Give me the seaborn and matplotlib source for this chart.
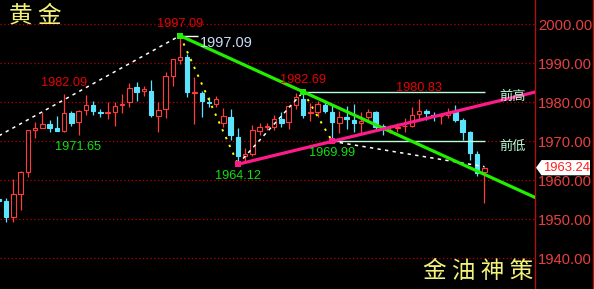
import matplotlib
matplotlib.use("Agg")
import matplotlib.pyplot as plt
import seaborn as sns
import pandas as pd
from matplotlib.patches import Polygon
from matplotlib.lines import Line2D

# ---------------- data ----------------
idx = list(range(-1, 67))
opens = [1955.2,
         1954.7, 1950.7, 1956.6, 1962.2, 1973.0, 1973.5, 1974.4, 1973.4, 1972.7, 1977.2,
         1975.0, 1978.0, 1979.2, 1977.4, 1977.2, 1977.6, 1979.2, 1980.2, 1983.8, 1982.9,
         1982.9, 1976.6, 1978.2, 1986.7, 1990.8, 1991.5, 1982.5, 1982.5, 1980.1, 1979.6,
         1974.8, 1976.2, 1971.2, 1966.2, 1966.7, 1972.7, 1973.7, 1973.7, 1975.7, 1975.0,
         1979.4, 1980.8, 1977.3, 1977.4, 1979.3, 1977.4, 1974.8, 1976.3, 1975.5, 1974.6,
         1976.3, 1977.4, 1974.0, 1972.8, 1973.3, 1973.8, 1974.0, 1976.9, 1977.8, 1976.8,
         1976.4, 1976.7, 1977.6, 1975.5, 1972.3, 1966.7, 1962.1]
highs = [1955.4,
         1955.4, 1960.3, 1962.4, 1972.9, 1975.0, 1977.6, 1975.5, 1976.5, 1982.09, 1977.8,
         1978.0, 1981.9, 1980.3, 1978.3, 1980.2, 1980.2, 1982.1, 1984.9, 1985.3, 1984.2,
         1985.7, 1980.2, 1987.8, 1991.2, 1997.09, 1992.4, 1986.5, 1983.0, 1981.4, 1981.7,
         1978.5, 1978.3, 1973.3, 1968.2, 1974.2, 1974.8, 1974.8, 1976.7, 1977.6, 1979.3,
         1982.3, 1982.69, 1979.7, 1980.4, 1980.6, 1979.3, 1977.8, 1979.0, 1979.6, 1977.6,
         1978.2, 1977.8, 1974.5, 1974.1, 1974.8, 1975.9, 1978.7, 1980.83, 1978.3, 1977.4,
         1977.3, 1978.5, 1979.3, 1975.9, 1972.6, 1967.5, 1963.5]
lows = [1954.5,
        1949.2, 1949.4, 1952.4, 1960.9, 1970.9, 1973.3, 1972.3, 1972.7, 1972.5, 1973.9,
        1971.65, 1976.7, 1976.7, 1976.3, 1975.7, 1974.0, 1977.2, 1978.9, 1980.4, 1981.7,
        1976.2, 1972.5, 1975.9, 1984.2, 1989.7, 1981.4, 1974.4, 1976.2, 1978.9, 1978.8,
        1973.7, 1970.3, 1964.12, 1965.0, 1966.2, 1971.6, 1972.9, 1972.9, 1973.7, 1973.2,
        1978.2, 1975.9, 1975.3, 1976.3, 1977.3, 1969.99, 1972.2, 1973.1, 1972.5, 1972.2,
        1975.5, 1972.9, 1971.6, 1972.1, 1972.5, 1972.5, 1973.7, 1975.6, 1975.5, 1975.3,
        1974.4, 1975.9, 1974.9, 1970.3, 1965.2, 1961.2, 1954.1]
closes = [1954.7,
          1950.7, 1956.5, 1962.1, 1972.9, 1973.5, 1974.4, 1973.4, 1972.7, 1977.2, 1974.8,
          1977.8, 1979.2, 1977.8, 1977.2, 1977.4, 1979.0, 1979.5, 1983.6, 1982.7, 1983.4,
          1976.7, 1978.0, 1986.7, 1991.0, 1991.5, 1982.7, 1982.7, 1980.4, 1979.7, 1980.8,
          1976.5, 1971.6, 1966.2, 1966.7, 1972.9, 1973.7, 1973.9, 1975.6, 1974.8, 1979.0,
          1981.4, 1976.8, 1977.4, 1979.6, 1977.8, 1975.0, 1976.2, 1975.6, 1974.6, 1975.3,
          1977.4, 1973.7, 1973.5, 1973.0, 1973.7, 1973.9, 1976.7, 1977.8, 1977.2, 1976.6,
          1976.6, 1977.6, 1975.5, 1972.5, 1966.9, 1961.8, 1963.24]

price_ticks = [1940, 1950, 1960, 1970, 1980, 1990, 2000]

# key swing points (index, price)
swing_high_1 = (24, 1997.09)
swing_high_2 = (41, 1982.69)
swing_low_1 = (32, 1964.12)
swing_low_2 = (45, 1969.99)
minor_high_labels = [(8, 1982.09), (57, 1980.83)]
minor_low_labels = [(10, 1971.65)]
left_trend = [(-1, 1971.4), (24, 1997.09)]
right_dash_end = (66, 1963.5)
level_end = 66.1
last_price = closes[-1]

title_left = "黄 金"
title_right = "金 油 神 策"
label_prev_high = "前高"
label_prev_low = "前低"

# ---------------- style ----------------
sns.set_theme(style="dark")
NUM = ['Liberation Sans', 'DejaVu Sans']
CJK = ['Noto Sans CJK SC', 'DejaVu Sans']
plt.rcParams['font.family'] = NUM

RED = '#FF3C3C'
CYAN = '#5CE4FF'
GRID = '#B80000'
AXRED = '#B01010'
TICKRED = '#E84040'
LBLRED = '#E80000'
LBLGREEN = '#10E010'
MINT = '#B8FFD8'
YELLOW = '#F2F27A'

fig = plt.figure(figsize=(5.94, 2.89), dpi=100, facecolor='black')
ax = fig.add_axes([0, 0, 535 / 594, 1])
ax.set_facecolor('black')

ax.set_xlim(-0.83, 72.97)
ax.set_ylim(1932.13, 2006.23)

# grid
for v in price_ticks:
    ax.axhline(v, color=GRID, lw=0.9, ls=(0, (1, 2)), zorder=1)

# candles
df = pd.DataFrame(dict(i=idx, o=opens, h=highs, l=lows, c=closes))
up = df[df.c >= df.o]
dn = df[df.c < df.o]
W = 0.62
ax.vlines(up.i, up.l, up.h, color=RED, lw=0.9, zorder=3)
ax.vlines(dn.i, dn.l, dn.h, color=CYAN, lw=0.9, zorder=3)
hu = (up.c - up.o).clip(lower=0.06)
ax.bar(up.i, hu, bottom=up.o, width=W, facecolor='black', edgecolor=RED, lw=0.8, zorder=4)
hd = (dn.o - dn.c).clip(lower=0.06)
ax.bar(dn.i, hd, bottom=dn.c, width=W, facecolor=CYAN, edgecolor=CYAN, lw=0.8, zorder=4)

# trend lines
xr = ax.get_xlim()[1]
g_slope = (swing_high_2[1] - swing_high_1[1]) / (swing_high_2[0] - swing_high_1[0])
sns.lineplot(x=[swing_high_1[0], xr], y=[swing_high_1[1], swing_high_1[1] + g_slope * (xr - swing_high_1[0])],
             ax=ax, color='#22EE00', lw=2.3, zorder=6)
p_slope = (swing_low_2[1] - swing_low_1[1]) / (swing_low_2[0] - swing_low_1[0])
sns.lineplot(x=[swing_low_1[0], xr], y=[swing_low_1[1], swing_low_1[1] + p_slope * (xr - swing_low_1[0])],
             ax=ax, color='#FF1A8C', lw=2.3, zorder=6)

# yellow dotted swings
for a, b in [(swing_high_1, swing_low_1), (swing_high_2, swing_low_2)]:
    sns.lineplot(x=[a[0], b[0]], y=[a[1], b[1]], ax=ax, color='#FFFF00', lw=1.4,
                 ls=(0, (1.2, 3.2)), zorder=5)
# white dashed
for a, b in [left_trend, (swing_low_1, swing_high_2), (swing_low_2, right_dash_end)]:
    sns.lineplot(x=[a[0], b[0]], y=[a[1], b[1]], ax=ax, color='white', lw=1.1,
                 ls=(0, (2.2, 2.8)), zorder=5)

# previous high / low levels
ax.hlines(swing_high_2[1], swing_high_2[0], level_end, color=MINT, lw=1.0, zorder=5)
ax.hlines(swing_low_2[1], swing_low_2[0], level_end, color=MINT, lw=1.0, zorder=5)
ax.hlines(swing_high_1[1], swing_high_1[0], swing_high_1[0] + 2.5, color='white', lw=1.0, zorder=5)

# markers
ax.scatter([swing_high_1[0], swing_high_2[0]], [swing_high_1[1], swing_high_2[1]],
           marker='s', s=22, color='#22EE00', zorder=7, linewidths=0)
ax.scatter([swing_low_1[0], swing_low_2[0]], [swing_low_1[1], swing_low_2[1]],
           marker='s', s=22, color='#FF1A8C', zorder=7, linewidths=0)

# value labels
def lbl(x, y, s, color, dy, size=9.2, ha='center'):
    ax.text(x, y + dy, s, color=color, fontsize=size, ha=ha, va='center',
            family=NUM, zorder=8)

for (x, v) in [swing_high_1, swing_high_2] + minor_high_labels:
    lbl(x, v, f"{v:.2f}", LBLRED, 2.9)
for (x, v) in [swing_low_1, swing_low_2] + minor_low_labels:
    lbl(x, v, f"{v:.2f}", LBLGREEN, -3.1)
ax.text(swing_high_1[0] + 2.7, swing_high_1[1] - 1.9, f"{swing_high_1[1]:.2f}", color='#C8DCF8',
        fontsize=10.5, ha='left', va='center', family=NUM, zorder=8)

ax.text(68.0, swing_high_2[1] - 1.3, label_prev_high, color=MINT, fontsize=9.5,
        ha='left', va='center', family=CJK, zorder=8)
ax.text(68.0, swing_low_2[1] - 1.2, label_prev_low, color=MINT, fontsize=9.5,
        ha='left', va='center', family=CJK, zorder=8)

# axis
for s in ['top', 'left', 'bottom']:
    ax.spines[s].set_visible(False)
ax.spines['right'].set_color(AXRED)
ax.spines['right'].set_linewidth(1.0)
ax.set_xticks([])
ax.yaxis.tick_right()
ax.set_yticks(price_ticks)
ax.set_yticklabels([f"{v:.2f}" for v in price_ticks], color=TICKRED, fontsize=10.6, family=NUM)
ax.tick_params(axis='y', length=0, pad=2)
ax.grid(False)

# last price tag
tr = ax.get_yaxis_transform()
hh = 1.95
tag = Polygon([[1.0019, last_price], [1.0121, last_price + hh], [1.1028, last_price + hh],
               [1.1028, last_price - hh], [1.0121, last_price - hh]],
              closed=True, transform=tr, facecolor='white', edgecolor='none',
              clip_on=False, zorder=10)
ax.add_patch(tag)
ax.text(1.0145, last_price, f"{last_price:.2f}", transform=tr, color='#FF2020', fontsize=9.4,
        ha='left', va='center', family=NUM, zorder=11, clip_on=False)

# right border
fig.add_artist(Line2D([592.5 / 594, 592.5 / 594], [0, 1], color=AXRED, lw=1.0))

# titles
fig.text(9 / 594, 1 - 16 / 289, title_left, color=YELLOW, fontsize=17, ha='left', va='center', family=CJK)
fig.text(533 / 594, 1 - 271 / 289, title_right, color=YELLOW, fontsize=17,
         ha='right', va='center', family=CJK)

fig.savefig('out.png', dpi=100, facecolor='black')
